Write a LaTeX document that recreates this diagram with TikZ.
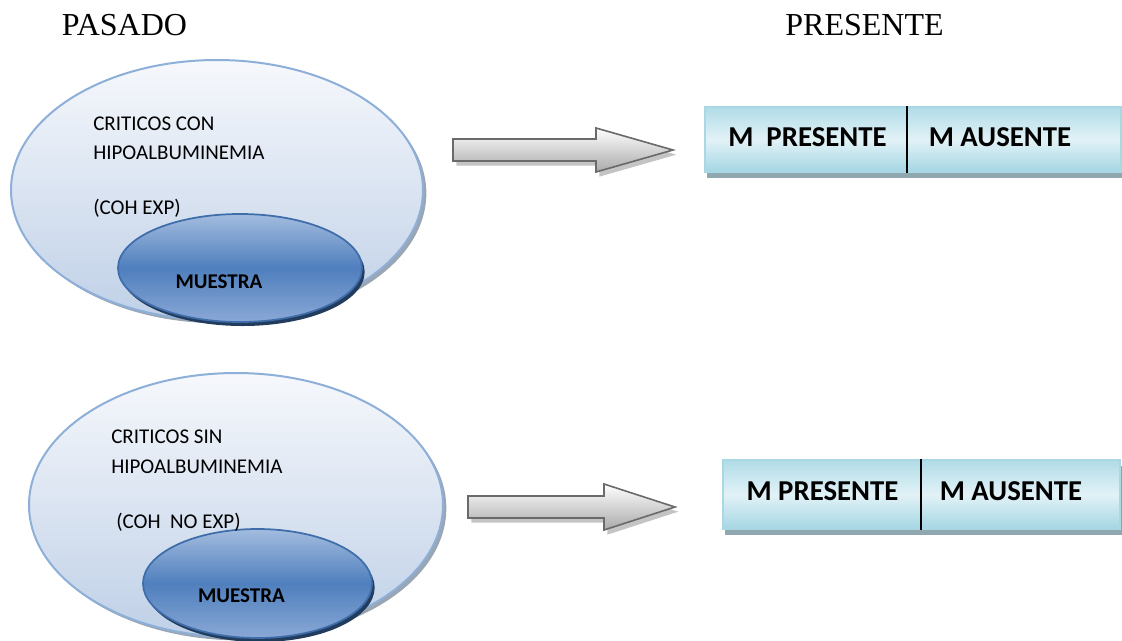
\documentclass[tikz,border=0pt]{standalone}
\usepackage{fontspec}
\setmainfont{Liberation Serif}
\newfontfamily\calfont{Carlito}
\usetikzlibrary{shapes.geometric,shadows}
\definecolor{outerborder}{HTML}{8EAFD8}
\definecolor{outertop}{HTML}{F6F8FC}
\definecolor{outerbot}{HTML}{BFD0E7}
\definecolor{outershadow}{HTML}{9AA6B4}
\definecolor{innertop}{HTML}{A3BCDF}
\definecolor{innermid}{HTML}{4F7FBD}
\definecolor{innerbot}{HTML}{8AA8D6}
\definecolor{innerborder}{HTML}{3E6DAA}
\definecolor{innershadow}{HTML}{223C5E}
\definecolor{boxcyan}{HTML}{A4D6E3}
\definecolor{boxlight}{HTML}{E2F2F7}
\definecolor{boxborder}{HTML}{A9D7E4}
\definecolor{boxshadow}{HTML}{8FA7AF}
\definecolor{arrowborder}{HTML}{6A6A6A}
\definecolor{arrowbot}{HTML}{A9A9A9}
\definecolor{arrowshadow}{HTML}{C4C4C4}
\tikzset{
  outerell/.style={ellipse, inner sep=0pt, draw=outerborder, line width=1.5pt,
    top color=outertop, bottom color=outerbot,
    drop shadow={shadow xshift=2.5pt, shadow yshift=-2.5pt, fill=outershadow, opacity=1}},
  innerell/.style={ellipse, inner sep=0pt, draw=innerborder, line width=1.3pt,
    top color=innertop, bottom color=innerbot, middle color=innermid,
    drop shadow={shadow xshift=2pt, shadow yshift=-3pt, fill=innershadow, opacity=1}},
  boxst/.style={rectangle, inner sep=0pt, draw=boxborder, line width=1.2pt,
    top color=boxcyan!80!boxlight, bottom color=boxcyan, middle color=boxlight,
    drop shadow={shadow xshift=1.5pt, shadow yshift=-4.5pt, fill=boxshadow, opacity=1}},
  arrowst/.style={draw=arrowborder, line width=1.2pt, top color=white, bottom color=arrowbot,
    drop shadow={shadow xshift=2.5pt, shadow yshift=-3.5pt, fill=arrowshadow, opacity=1}},
  lbl/.style={inner sep=0pt, font=\calfont\fontsize{15.75pt}{18pt}\selectfont, text=black},
  blbl/.style={inner sep=0pt, font=\calfont\bfseries\fontsize{15.75pt}{18pt}\selectfont, text=black},
  boxlbl/.style={inner sep=0pt, font=\calfont\bfseries\fontsize{21.6pt}{24pt}\selectfont, text=black},
  title/.style={inner sep=0pt, font=\fontsize{24pt}{28pt}\selectfont, text=black}
}
\begin{document}
\begin{tikzpicture}[x=0.75pt,y=-0.75pt]
\useasboundingbox (0,0) rectangle (1122,640);
% titles
\node[title, anchor=base] (tpas) at (124.5,35) {PASADO};
\node[title, anchor=base] (tpre) at (864.5,35) {PRESENTE};
% top group
\node[outerell, minimum width=309pt, minimum height=195pt] (o1) at (217,190) {};
\node[innerell, minimum width=183pt, minimum height=81pt] (i1) at (240,268) {};
\node[lbl, anchor=base west] (t1a) at (93,130) {CRITICOS CON};
\node[lbl, anchor=base west] (t1b) at (93,159.3) {HIPOALBUMINEMIA};
\node[lbl, anchor=base west] (t1c) at (93,214) {(COH EXP)};
\node[blbl, anchor=base] (m1) at (219,288) {MUESTRA};
% bottom group
\node[outerell, minimum width=310.5pt, minimum height=198pt] (o2) at (236,505) {};
\node[innerell, minimum width=171.75pt, minimum height=81.75pt] (i2) at (257.5,583.5) {};
\node[lbl, anchor=base west] (t2a) at (111,443.3) {CRITICOS SIN};
\node[lbl, anchor=base west] (t2b) at (111,473.3) {HIPOALBUMINEMIA};
\node[lbl, anchor=base west] (t2c) at (116,528) {(COH\ \ NO EXP)};
\node[blbl, anchor=base] (m2) at (241.5,602) {MUESTRA};
% arrows
\path[arrowst] (453,139) -- (596,139) -- (596,128) -- (673,150) -- (596,172) -- (596,161) -- (453,161) -- cycle;
\path[arrowst] (468,496) -- (604,496) -- (604,484) -- (675,507) -- (604,530) -- (604,518) -- (468,518) -- cycle;
% boxes
\node[boxst, minimum width=312pt, minimum height=48.75pt] (b1) at (913,139.5) {};
\coordinate (d1) at (907,0);
\draw[line width=1.3pt, black] (d1 |- b1.north) -- (d1 |- b1.south);
\node[boxlbl, anchor=base] (b1l) at (807.5,146.5) {M\ \ PRESENTE};
\node[boxlbl, anchor=base] (b1r) at (1000,146.5) {M AUSENTE};
\node[boxst, minimum width=297.75pt, minimum height=51.75pt] (b2) at (921.5,494.5) {};
\coordinate (d2) at (921,0);
\draw[line width=1.3pt, black] (d2 |- b2.north) -- (d2 |- b2.south);
\node[boxlbl, anchor=base] (b2l) at (822.5,500) {M PRESENTE};
\node[boxlbl, anchor=base] (b2r) at (1011,500) {M AUSENTE};
\end{tikzpicture}
\end{document}
